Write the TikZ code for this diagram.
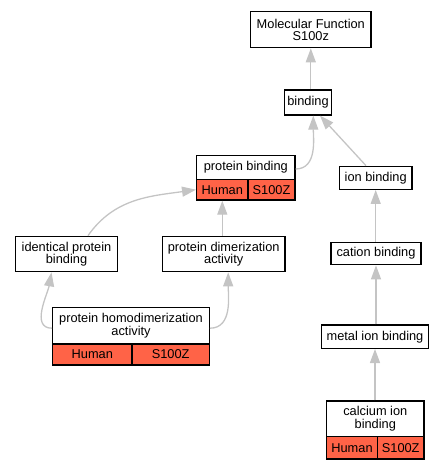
\documentclass[tikz,border=0pt]{standalone}
\usepackage{fontspec}
\setmainfont{Liberation Sans}
\usetikzlibrary{arrows.meta,calc}
\definecolor{hit}{HTML}{FF6347}
\definecolor{edgegray}{HTML}{C4C4C4}
\tikzset{
  box/.style={draw=black, line width=1.3pt, fill=white, inner sep=0pt, align=center,
    font=\fontsize{12.8}{12.5}\selectfont},
  cell/.style={box, fill=hit},
  edge/.style={draw=edgegray, line width=1.3pt, -{Triangle[length=14pt,width=10pt]}},
}
\begin{document}
\begin{tikzpicture}[x=1pt,y=-1pt]
\useasboundingbox (0,0) rectangle (444,469);
% nodes
\node[box, minimum width=120.3, minimum height=36] (mf) at (310.8,29.7) {Molecular Function\\S100z};
\node[box, minimum width=47.4, minimum height=25] (bind) at (308,102.5) {binding};
\node[box, minimum width=98.3, minimum height=23.6] (pb) at (245.8,167.5) {protein binding};
\node[cell, minimum width=51.3, minimum height=20.7] (pbh) at (222.3,189.7) {Human};
\node[cell, minimum width=47, minimum height=20.7] (pbs) at (271.5,189.7) {S100Z};
\node[box, minimum width=101.6, minimum height=35.4] (ident) at (66.5,254) {identical protein\\binding};
\node[box, minimum width=122.7, minimum height=35.4] (dim) at (223.7,254) {protein dimerization\\activity};
\node[box, minimum width=156.6, minimum height=36.7] (homo) at (131,325.7) {protein homodimerization\\activity};
\node[cell, minimum width=79.3, minimum height=21] (homoh) at (92.3,354.5) {Human};
\node[cell, minimum width=77.3, minimum height=21] (homos) at (170.7,354.5) {S100Z};
\node[box, minimum width=72.7, minimum height=23] (ion) at (375.7,177.8) {ion binding};
\node[box, minimum width=90, minimum height=22.4] (cation) at (376,253.5) {cation binding};
\node[box, minimum width=106.6, minimum height=23.3] (metal) at (375,336.7) {metal ion binding};
\node[box, minimum width=97.3, minimum height=35.7] (cal) at (375.3,418.8) {calcium ion\\binding};
\node[cell, minimum width=50.6, minimum height=22.3] (calh) at (352,447.8) {Human};
\node[cell, minimum width=46.7, minimum height=22.3] (cals) at (400.7,447.8) {S100Z};
% edges
\draw[edge] (mf.south |- bind.north) -- (mf.south);
\draw[edge] ([yshift=-1.5]pb.east) to[out=0,in=-90] ([xshift=5.3]bind.south);
\draw[edge] ([xshift=-9.7]ion.north) -- ([xshift=12]bind.south);
\draw[edge] (pbh.south |- dim.north) -- (pbh.south);
\draw[edge] ([xshift=21.5]ident.north) to[out=55,in=188] (pbh.west);
\draw[edge] ([yshift=-2.5]homo.west) to[out=180,in=-100] ([xshift=-15]ident.south);
\draw[edge] ([yshift=-2.5]homo.east) to[out=0,in=-90] ([xshift=4.5]dim.south);
\draw[edge] (ion.south |- cation.north) -- (ion.south);
\draw[edge] (cation.south |- metal.north) -- (cation.south);
\draw[edge] (metal.south |- cal.north) -- (metal.south);
\end{tikzpicture}
\end{document}
